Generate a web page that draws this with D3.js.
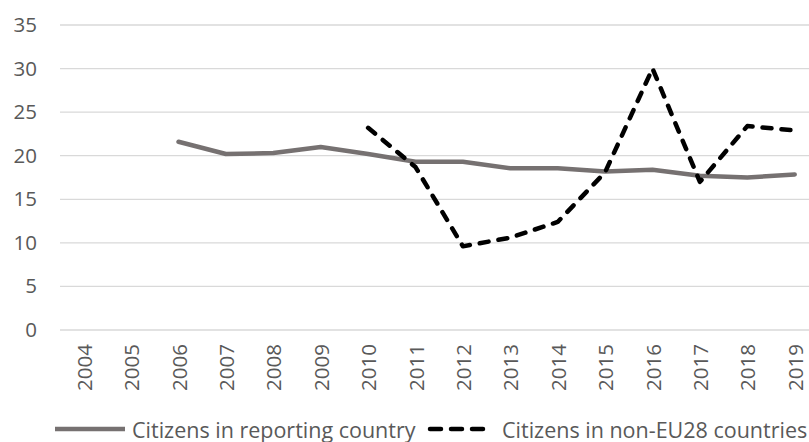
<!DOCTYPE html>
<html>
<head>
<meta charset="utf-8">
<script src="https://cdn.jsdelivr.net/npm/d3@7"></script>
<style>
  body { margin: 0; background: #fff; }
  svg { display: block; }
  text { font-family: "Open Sans", "Noto Sans", sans-serif; fill: #595959; }
</style>
</head>
<body>
<div id="chart"></div>
<script>
// chart data
var years = ["2004", "2005", "2006", "2007", "2008", "2009", "2010", "2011",
             "2012", "2013", "2014", "2015", "2016", "2017", "2018", "2019"];
var reporting = [null, null, 21.6, 20.2, 20.3, 21.0, 20.2, 19.3,
                 19.3, 18.55, 18.55, 18.2, 18.4, 17.7, 17.5, 17.85];
var nonEU28 = [null, null, null, null, null, null, 23.2, 18.7,
               9.6, 10.6, 12.4, 18.1, 30.0, 17.0, 23.4, 22.9];
var yTicks = [0, 5, 10, 15, 20, 25, 30, 35];
var seriesNames = ["Citizens in reporting country", "Citizens in non-EU28 countries"];

var W = 809, H = 442;
var margin = {top: 25, left: 60, bottom: 112};
var plotRight = 60 + 16 * 47.4;   // plot area runs a little past the right edge

var svg = d3.select("#chart").append("svg")
            .attr("width", W)
            .attr("height", H);

var x = d3.scaleBand()
          .domain(years)
          .range([margin.left, plotRight]);

var y = d3.scaleLinear()
          .domain([0, 35])
          .range([H - margin.bottom, margin.top]);

// gridlines
svg.append("g")
   .selectAll("line")
   .data(yTicks)
   .enter().append("line")
   .attr("x1", margin.left)
   .attr("x2", plotRight)
   .attr("y1", function(d) { return y(d); })
   .attr("y2", function(d) { return y(d); })
   .attr("stroke", "#d9d9d9")
   .attr("stroke-width", 1.3);

// y axis labels
var yAxis = svg.append("g")
   .attr("transform", "translate(" + (margin.left - 23) + ",0)")
   .call(d3.axisLeft(y).tickValues(yTicks).tickSize(0).tickPadding(0));
yAxis.select(".domain").remove();
yAxis.selectAll("text")
     .style("font-size", "20.5px")
     .attr("fill", "#595959");

// x axis labels, rotated
var xAxis = svg.append("g")
   .attr("transform", "translate(0," + y(0) + ")")
   .call(d3.axisBottom(x).tickSize(0).tickPadding(0));
xAxis.select(".domain").remove();
xAxis.selectAll("text")
     .style("font-size", "20.5px")
     .attr("fill", "#595959")
     .attr("text-anchor", "end")
     .attr("dy", null)
     .attr("y", 0)
     .attr("dominant-baseline", "central")
     .attr("transform", "translate(0,14) rotate(-90)");

function seriesLine(values) {
   return d3.line()
            .defined(function(d) { return d != null; })
            .x(function(d, i) { return x(years[i]) + x.bandwidth() / 2; })
            .y(function(d) { return y(d); })(values);
}

svg.append("path")
   .attr("d", seriesLine(reporting))
   .attr("fill", "none")
   .attr("stroke", "#767171")
   .attr("stroke-width", 4.5)
   .attr("stroke-linejoin", "round")
   .attr("stroke-linecap", "round");

svg.append("path")
   .attr("d", seriesLine(nonEU28))
   .attr("fill", "none")
   .attr("stroke", "#000")
   .attr("stroke-width", 4.5)
   .attr("stroke-dasharray", "9,10")
   .attr("stroke-linejoin", "round")
   .attr("stroke-linecap", "round");

// legend
var legY = 429;
var leg = svg.append("g");
leg.append("line")
   .attr("x1", 55).attr("x2", 125)
   .attr("y1", legY).attr("y2", legY)
   .attr("stroke", "#767171")
   .attr("stroke-width", 4.5);
leg.append("text")
   .attr("x", 132).attr("y", legY)
   .attr("dominant-baseline", "central")
   .style("font-size", "21.5px")
   .text(seriesNames[0]);
leg.append("line")
   .attr("x1", 430).attr("x2", 488)
   .attr("y1", legY).attr("y2", legY)
   .attr("stroke", "#000")
   .attr("stroke-width", 4.5)
   .attr("stroke-dasharray", "11,10")
   .attr("stroke-linecap", "round");
leg.append("text")
   .attr("x", 502).attr("y", legY)
   .attr("dominant-baseline", "central")
   .style("font-size", "21.5px")
   .text(seriesNames[1]);
</script>
</body>
</html>
